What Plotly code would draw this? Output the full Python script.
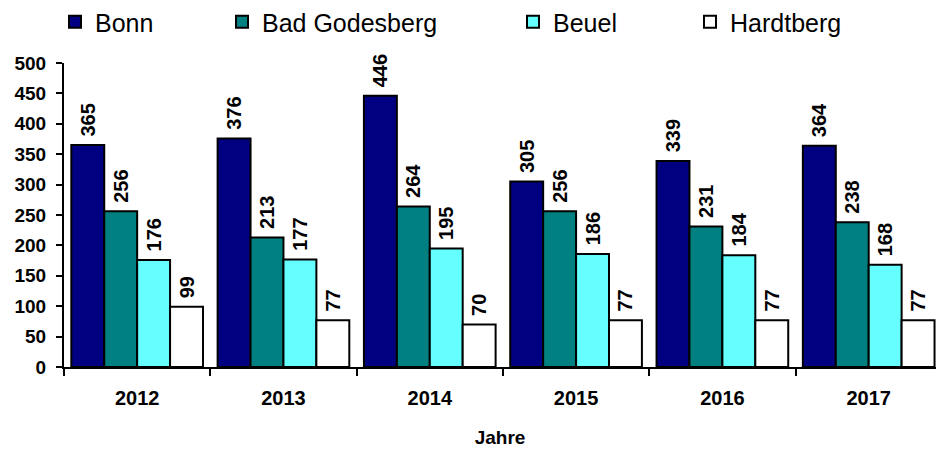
import plotly.graph_objects as go

years = ["2012", "2013", "2014", "2015", "2016", "2017"]
bonn = [365, 376, 446, 305, 339, 364]
bad_godesberg = [256, 213, 264, 256, 231, 238]
beuel = [176, 177, 195, 186, 184, 168]
hardtberg = [99, 77, 70, 77, 77, 77]

series = [
    ("Bonn", bonn, "#000080", "legend"),
    ("Bad Godesberg", bad_godesberg, "#008080", "legend2"),
    ("Beuel", beuel, "#66FFFF", "legend3"),
    ("Hardtberg", hardtberg, "#FFFFFF", "legend4"),
]

font = "Liberation Sans, Arial, sans-serif"

fig = go.Figure()
for name, vals, color, leg in series:
    fig.add_trace(go.Bar(
        name=name, x=years, y=vals,
        marker=dict(color=color, line=dict(color="black", width=2)),
        text=["\u00a0" + str(v) for v in vals], textposition="outside", textangle=-90,
        textfont=dict(family=font, size=20, color="black", weight="bold"),
        constraintext="none",
        cliponaxis=False, legend=leg, showlegend=True,
    ))

# one legend per series so each entry sits where the original puts it
leg_px = [55, 222, 513, 690]
legends = {}
for i, px in enumerate(leg_px):
    key = "legend" if i == 0 else "legend%d" % (i + 1)
    legends[key] = dict(
        xref="container", yref="container",
        x=px / 936, y=1 - 22 / 450, xanchor="left", yanchor="middle",
        orientation="h", bgcolor="rgba(0,0,0,0)",
        font=dict(family=font, size=25, color="black"),
    )

fig.update_layout(
    width=936, height=450,
    margin=dict(l=64, r=0, t=63, b=83),
    paper_bgcolor="white", plot_bgcolor="white",
    barmode="group", bargap=0.1, bargroupgap=0,
    showlegend=True,
    font=dict(family=font, color="black"),
    **legends,
)
fig.update_yaxes(
    range=[0, 500], dtick=50, showgrid=False, zeroline=False,
    showline=True, linecolor="black", linewidth=2,
    ticks="outside", ticklen=6, tickwidth=2, tickcolor="black",
    ticklabelstandoff=6,
    tickfont=dict(family=font, size=19, color="black", weight="bold"),
)
fig.update_xaxes(
    range=[-0.5, 5.46], showgrid=False, showline=True, linecolor="black", linewidth=2,
    ticks="outside", tickson="boundaries", ticklen=7, tickwidth=2, tickcolor="black",
    ticklabelstandoff=12,
    tickfont=dict(family=font, size=20, color="black", weight="bold"),
    title=dict(text="Jahre", standoff=23,
               font=dict(family=font, size=19, color="black", weight="bold")),
)

fig.write_html("out.html", config={"displayModeBar": False},
               post_script="document.body.style.margin='0';")
